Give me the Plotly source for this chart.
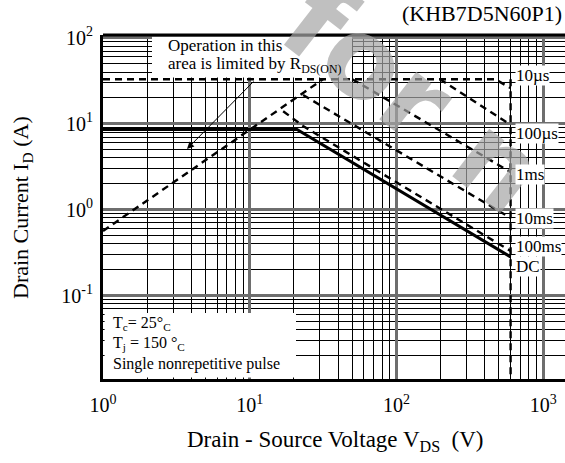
import math
import plotly.graph_objects as go

# ---- data: safe operating area (V in volts, I in amperes) ----
rds_v = [1, 31.6]
rds_i = [0.564, 33]

us10_v = [1, 470, 600]
us10_i = [33, 33, 26]

us100_v = [198, 600]
us100_i = [33, 9.7]

ms1_v = [50, 600]
ms1_i = [33, 2.74]

ms10_v = [23.1, 600]
ms10_i = [21.6, 0.80]

ms100_v = [16.9, 23.1, 600]
ms100_i = [14, 9.4, 0.33]

dc_v = [1, 21, 600]
dc_i = [8.57, 8.57, 0.281]

bv_v = [600, 600]
bv_i = [33, 0.01]

curve_labels = ["10µs", "100µs", "1ms", "10ms", "100ms", "DC"]

x_tick_vals = [1, 10, 100, 1000]
x_tick_text = ["10<sup>0</sup>", "10<sup>1</sup>", "10<sup>2</sup>", "10<sup>3</sup>"]
y_tick_vals = [100, 10, 1, 0.1, 0.01]
y_tick_text = ["10<sup>2</sup>", "10<sup>1</sup>", "10<sup>0</sup>", "10<sup>-1</sup>", "10<sup>2</sup>"]

# ---- layout geometry ----
W, H = 565, 463
ML, MR, MT, MB = 103, 0, 35, 84
PW, PH = W - ML - MR, H - MT - MB
X_RANGE = [0.0, 3.149]
Y_RANGE = [-1.972, 2.033]
SERIF = "Liberation Serif, Times New Roman, serif"


def px_x(p):
    return (p - ML) / PW


def px_y(p):
    return (H - MB - p) / PH


def minor_vals(lo, hi):
    out = []
    for e in range(lo, hi + 1):
        for m in range(2, 10):
            out.append(m * 10 ** e)
    return out


fig = go.Figure()

DASH = "7px,5px"
line_dash = dict(color="black", width=2.4, dash=DASH)

for v, i in [(rds_v, rds_i), (us10_v, us10_i), (us100_v, us100_i),
             (ms1_v, ms1_i), (ms10_v, ms10_i), (ms100_v, ms100_i),
             (bv_v, bv_i)]:
    fig.add_trace(go.Scatter(x=v, y=i, mode="lines", line=line_dash,
                             hoverinfo="skip", showlegend=False))

fig.add_trace(go.Scatter(x=dc_v, y=dc_i, mode="lines",
                         line=dict(color="black", width=3),
                         hoverinfo="skip", showlegend=False))

shapes = [
    # white text panels over the grid
    dict(type="rect", xref="paper", yref="paper",
         x0=px_x(152), x1=px_x(352), y0=px_y(77.5), y1=px_y(36.8),
         fillcolor="white", line=dict(width=0), layer="above"),
    dict(type="rect", xref="paper", yref="paper",
         x0=px_x(104.6), x1=px_x(296), y0=px_y(377.4), y1=px_y(313),
         fillcolor="white", line=dict(width=0), layer="above"),
    # top frame edge
    dict(type="line", xref="paper", yref="paper", x0=0, x1=1, y0=1, y1=1,
         line=dict(color="black", width=3)),
]

annotations = []

# watermark
annotations.append(dict(
    xref="paper", yref="paper", x=px_x(414), y=px_y(98),
    xanchor="center", yanchor="middle",
    text="<b>for n</b>", showarrow=False, textangle=38,
    font=dict(family="DejaVu Sans, sans-serif", size=110, color="rgba(165,165,165,0.7)"),
))

# panel texts
annotations.append(dict(
    xref="paper", yref="paper", x=px_x(166), y=px_y(46), xanchor="left",
    yanchor="middle", text="Operation in this", showarrow=False,
    font=dict(family=SERIF, size=17, color="black")))
annotations.append(dict(
    xref="paper", yref="paper", x=px_x(166), y=px_y(65), xanchor="left",
    yanchor="middle", text="area is limited by R<sub>DS(ON)</sub>", showarrow=False,
    font=dict(family=SERIF, size=17, color="black")))

annotations.append(dict(
    xref="paper", yref="paper", x=px_x(187), y=px_y(149), ax=68, ay=-69,
    text="", showarrow=True, arrowhead=2, arrowsize=1.4, arrowwidth=1,
    arrowcolor="black"))

cond_lines = ["T<sub>c</sub>= 25°<sub>C</sub>", "T<sub>j</sub> = 150 °<sub>C</sub>",
              "Single nonrepetitive pulse"]
for t, py in zip(cond_lines, [323, 343, 364]):
    annotations.append(dict(
        xref="paper", yref="paper", x=px_x(111), y=px_y(py), xanchor="left",
        yanchor="middle", text=t, showarrow=False,
        font=dict(family=SERIF, size=16, color="black")))

for t, py in zip(curve_labels, [75, 133, 174, 218, 246, 266]):
    annotations.append(dict(
        xref="paper", yref="paper", x=px_x(515), y=px_y(py), xanchor="left",
        yanchor="middle", text=t, showarrow=False, bgcolor="white",
        borderpad=0, font=dict(family=SERIF, size=17, color="black")))

annotations.append(dict(
    xref="paper", yref="paper", x=px_x(564), y=px_y(14), xanchor="right",
    yanchor="middle", text="(KHB7D5N60P1)", showarrow=False,
    font=dict(family=SERIF, size=22, color="black")))

annotations.append(dict(
    xref="paper", yref="paper", x=px_x(335), y=px_y(441), xanchor="center",
    yanchor="middle", text="Drain - Source Voltage V<sub>DS</sub>  (V)",
    showarrow=False, font=dict(family=SERIF, size=23, color="black")))
annotations.append(dict(
    xref="paper", yref="paper", x=px_x(22), y=px_y(208), xanchor="center",
    yanchor="middle", text="Drain Current I<sub>D</sub> (A)", textangle=-90,
    showarrow=False, font=dict(family=SERIF, size=22, color="black")))

axis_common = dict(
    type="log", showgrid=True, gridcolor="#6e6e6e", gridwidth=2.5,
    zeroline=False, ticks="", showline=True, linecolor="black", linewidth=3,
    tickfont=dict(family=SERIF, size=20, color="black"),
)

fig.update_layout(
    width=W, height=H, autosize=False,
    margin=dict(l=ML, r=MR, t=MT, b=MB, pad=0),
    paper_bgcolor="white", plot_bgcolor="white",
    shapes=shapes, annotations=annotations, showlegend=False,
    xaxis=dict(axis_common, range=X_RANGE, tickmode="array",
               tickvals=x_tick_vals, ticktext=x_tick_text, ticklabelstandoff=6,
               minor=dict(tickmode="array", tickvals=minor_vals(0, 3),
                          showgrid=True, gridcolor="black", gridwidth=1.2)),
    yaxis=dict(axis_common, range=Y_RANGE, tickmode="array",
               tickvals=y_tick_vals, ticktext=y_tick_text, ticklabelstandoff=3,
               minor=dict(tickmode="array", tickvals=minor_vals(-2, 1),
                          showgrid=True, gridcolor="black", gridwidth=1.2)),
)

fig.write_html("out.html")
